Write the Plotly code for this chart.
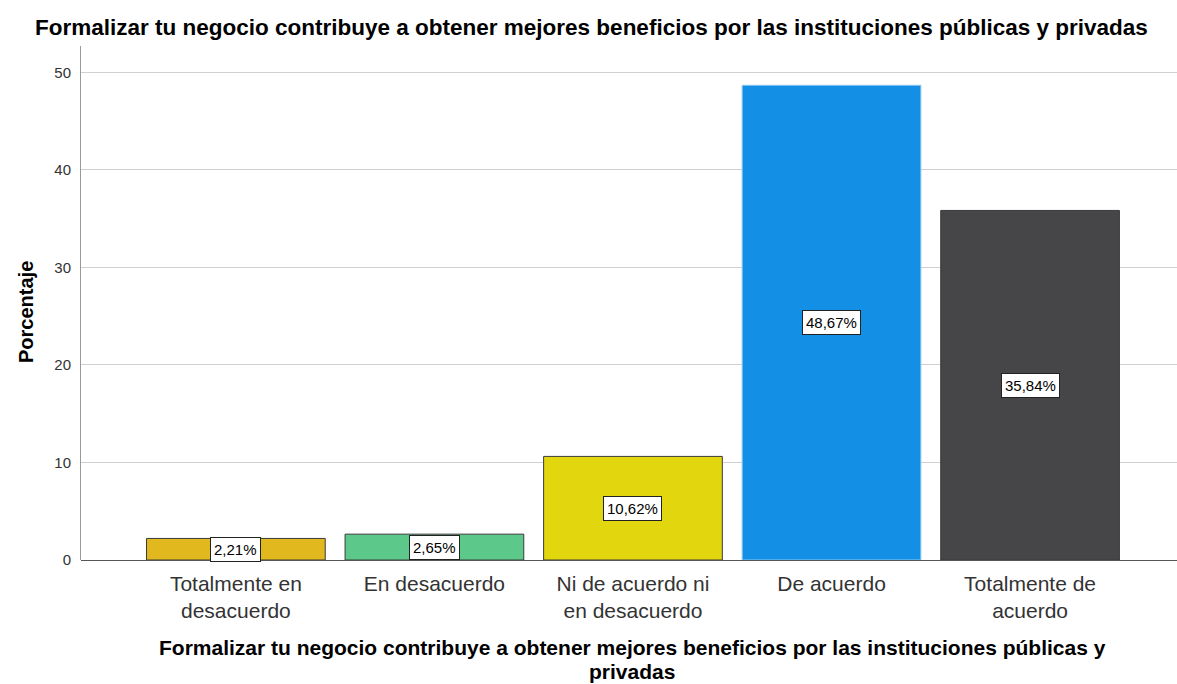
import plotly.graph_objects as go

# Categorías y porcentajes
categorias = ["Totalmente en<br>desacuerdo", "En desacuerdo", "Ni de acuerdo ni<br>en desacuerdo",
              "De acuerdo", "Totalmente de<br>acuerdo"]
porcentajes = [2.21, 2.65, 10.62, 48.67, 35.84]
etiquetas = ["2,21%", "2,65%", "10,62%", "48,67%", "35,84%"]
colores = ["#E1B91F", "#5CC98A", "#E2D70E", "#138FE6", "#464648"]
bordes = ["#3A3A3A", "#3A3A3A", "#3A3A3A", "#8CC8F2", "#3A3A3A"]
ticks_y = [0, 10, 20, 30, 40, 50]

titulo = "Formalizar tu negocio contribuye a obtener mejores beneficios por las instituciones públicas y privadas"
titulo_x = ["Formalizar tu negocio contribuye a obtener mejores beneficios por las instituciones públicas y",
            "privadas"]

fuente = "Liberation Sans, Arial"

fig = go.Figure(go.Bar(
    x=list(range(len(categorias))),
    y=porcentajes,
    width=0.9,
    marker=dict(color=colores, line=dict(color=bordes, width=1)),
    hoverinfo="y",
))

# Etiquetas de valor con caja blanca en la mitad de cada barra
for i, (v, t) in enumerate(zip(porcentajes, etiquetas)):
    fig.add_annotation(
        x=i, y=v / 2, text=t, showarrow=False,
        font=dict(family=fuente, size=15, color="black"),
        bgcolor="white", bordercolor="#222", borderwidth=1, borderpad=3,
    )

# Título superior
fig.add_annotation(
    text="<b>" + titulo + "</b>", xref="paper", yref="paper", x=0.466, y=1, yshift=19,
    xanchor="center", yanchor="middle", showarrow=False,
    font=dict(family=fuente, size=22.5, color="black"),
)
# Título del eje x, en dos líneas con interlineado estrecho
for k, linea in enumerate(titulo_x):
    fig.add_annotation(
        text="<b>" + linea + "</b>", xref="paper", yref="paper", x=0.503, y=0,
        yshift=-87 - 24 * k, xanchor="center", yanchor="middle", showarrow=False,
        font=dict(family=fuente, size=21, color="black"),
    )
# Título del eje y
fig.add_annotation(
    text="<b>Porcentaje</b>", xref="paper", yref="paper", x=0, xshift=-55, y=0.4825,
    xanchor="center", yanchor="middle", textangle=-90, showarrow=False,
    font=dict(family=fuente, size=20, color="black"),
)

fig.update_layout(
    width=1177, height=684,
    margin=dict(l=81, r=0, t=46, b=124),
    paper_bgcolor="white", plot_bgcolor="white",
    font=dict(family=fuente, color="#333"),
    showlegend=False,
    xaxis=dict(
        range=[-0.78, 4.74],
        tickmode="array", tickvals=list(range(len(categorias))), ticktext=categorias,
        tickfont=dict(size=21, color="#333"),
        showgrid=False, showline=False, zeroline=False, ticks="",
        ticklabelstandoff=9,
    ),
    yaxis=dict(
        range=[0, 52.7],
        tickvals=ticks_y, tickfont=dict(size=15, color="#333"),
        showgrid=True, gridcolor="#D0D0D0", gridwidth=1,
        showline=True, linecolor="#9A9A9A", linewidth=1,
        zeroline=True, zerolinecolor="#555", zerolinewidth=1,
        ticks="", ticklabelstandoff=6,
    ),
)

fig.write_html("out.html", config={"displayModeBar": False},
               post_script="document.body.style.margin='0';")
